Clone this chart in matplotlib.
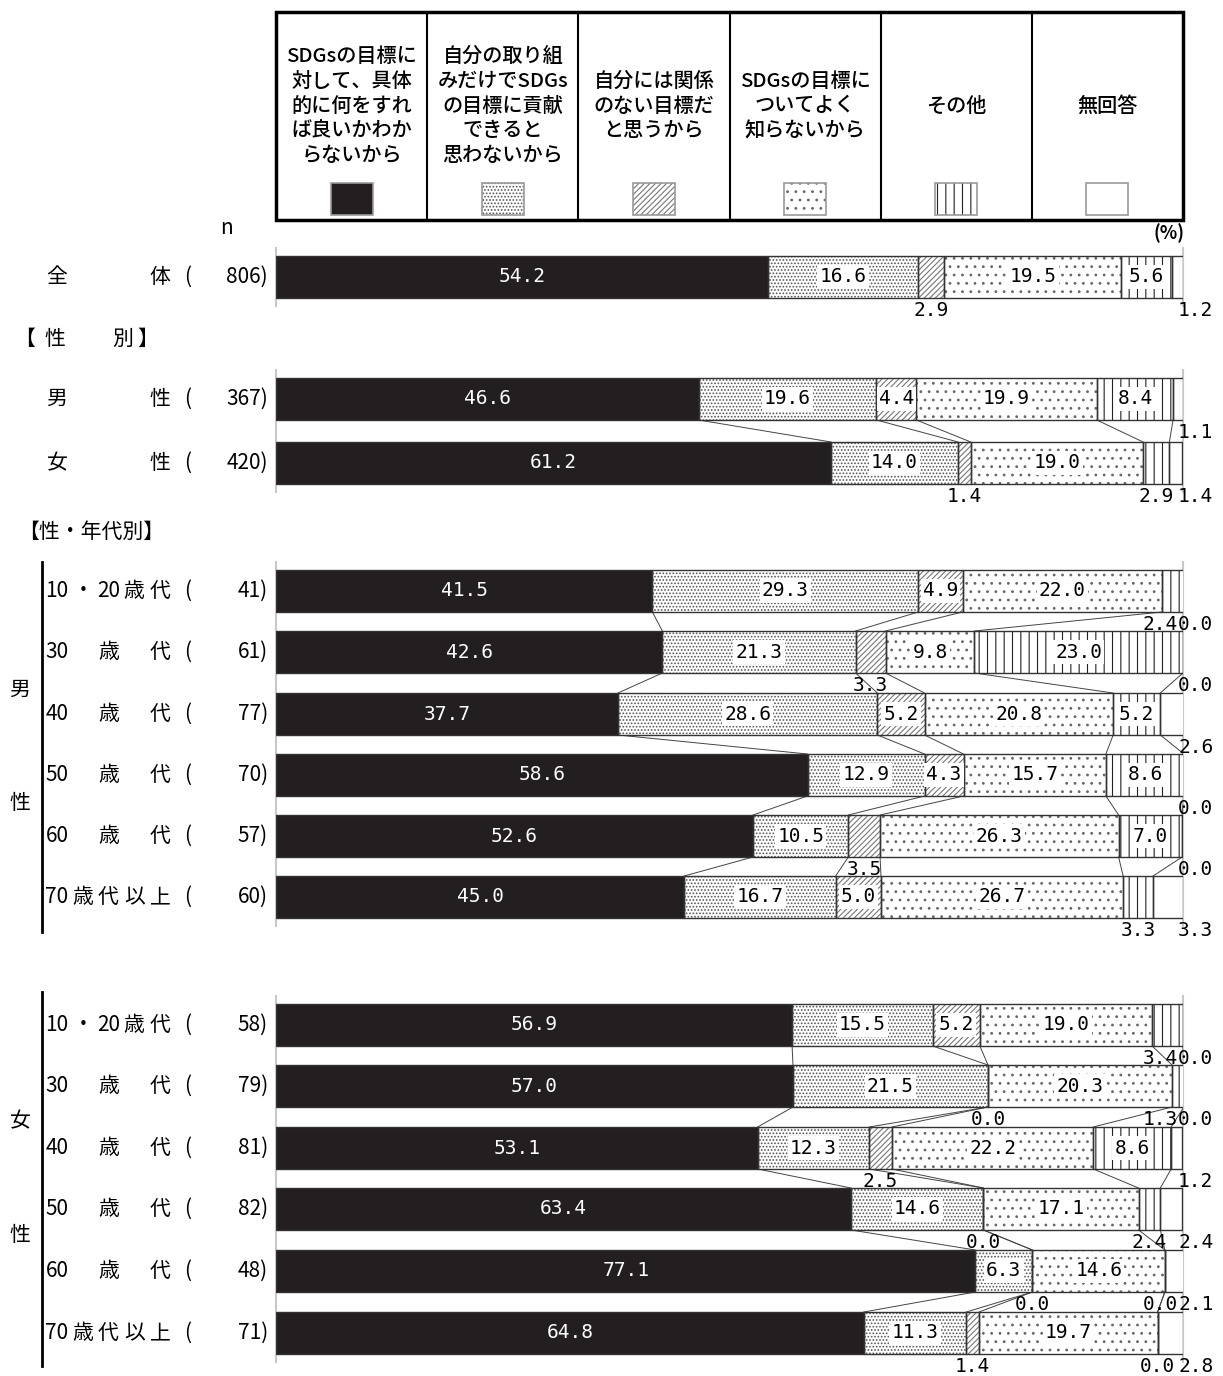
import numpy as np
import matplotlib.pyplot as plt
from matplotlib.patches import Rectangle

plt.rcParams['font.family'] = ['Noto Sans CJK JP', 'DejaVu Sans']
plt.rcParams['hatch.linewidth'] = 0.8

# ==========================================
# data
# ==========================================
legend_labels = [
    'SDGsの目標に\n対して、具体\n的に何をすれ\nば良いかわか\nらないから',
    '自分の取り組\nみだけでSDGs\nの目標に貢献\nできると\n思わないから',
    '自分には関係\nのない目標だ\nと思うから',
    'SDGsの目標に\nついてよく\n知らないから',
    'その他',
    '無回答',
]

total_labels = [['全', '体']]
total_n = [806]
total_vals = [[54.2, 16.6, 2.9, 19.5, 5.6, 1.2]]

sex_labels = [['男', '性'], ['女', '性']]
sex_n = [367, 420]
sex_vals = [
    [46.6, 19.6, 4.4, 19.9, 8.4, 1.1],
    [61.2, 14.0, 1.4, 19.0, 2.9, 1.4],
]

age_labels = [
    ['10', '・', '20', '歳', '代'],
    ['30', '歳', '代'],
    ['40', '歳', '代'],
    ['50', '歳', '代'],
    ['60', '歳', '代'],
    ['70', '歳', '代', '以', '上'],
]
male_n = [41, 61, 77, 70, 57, 60]
male_vals = [
    [41.5, 29.3, 4.9, 22.0, 2.4, 0.0],
    [42.6, 21.3, 3.3, 9.8, 23.0, 0.0],
    [37.7, 28.6, 5.2, 20.8, 5.2, 2.6],
    [58.6, 12.9, 4.3, 15.7, 8.6, 0.0],
    [52.6, 10.5, 3.5, 26.3, 7.0, 0.0],
    [45.0, 16.7, 5.0, 26.7, 3.3, 3.3],
]
female_n = [58, 79, 81, 82, 48, 71]
female_vals = [
    [56.9, 15.5, 5.2, 19.0, 3.4, 0.0],
    [57.0, 21.5, 0.0, 20.3, 1.3, 0.0],
    [53.1, 12.3, 2.5, 22.2, 8.6, 1.2],
    [63.4, 14.6, 0.0, 17.1, 2.4, 2.4],
    [77.1, 6.3, 0.0, 14.6, 0.0, 2.1],
    [64.8, 11.3, 1.4, 19.7, 0.0, 2.8],
]

# ==========================================
# styles
# ==========================================
face = ['#231f20', 'white', 'white', 'white', 'white', 'white']
hatches = [None, '.....', '//////', '..', '||', None]
hatch_col = ['#231f20', '#555555', '#777777', '#666666', '#222222', 'white']
edge = '#333333'
H = 42  # bar height (px)
FS = 15
NUM = dict(family='DejaVu Sans Mono', fontsize=14)

fig = plt.figure(figsize=(12.23, 13.76), dpi=100)
ax = fig.add_axes([276 / 1223, 0, 907 / 1223, 1])
ax.set_xlim(0, 100)
ax.set_ylim(1376, 0)
ax.axis('off')


def px(p):
    # pixel x -> percent axis
    return (p - 276) / 907 * 100


def draw_group(ys, labels, ns, vals):
    ys = np.array(ys, dtype=float)
    vals = np.array(vals)
    cum = np.cumsum(vals, axis=1)
    left = cum - vals

    # axis lines at 0 and 100
    for xv in (0, 100):
        ax.plot([xv, xv], [ys[0] - H / 2 - 8, ys[-1] + H / 2 + 8],
                color='#c8c8c8', lw=1.5, clip_on=False, zorder=1)

    for j in range(6):
        ax.barh(ys, vals[:, j], left=left[:, j], height=H, color=face[j],
                hatch=hatches[j], edgecolor=hatch_col[j], linewidth=0, zorder=2)
        ax.barh(ys, vals[:, j], left=left[:, j], height=H, fill=False,
                edgecolor=edge, linewidth=1.0, zorder=3)

    # connecting lines
    for i in range(len(ys) - 1):
        for k in range(5):
            ax.plot([cum[i, k], cum[i + 1, k]], [ys[i] + H / 2, ys[i + 1] - H / 2],
                    color='#444444', lw=0.7, zorder=2)

    # value labels
    for i, y in enumerate(ys):
        small = []
        for j in range(6):
            v = vals[i, j]
            c = left[i, j] + v / 2
            if v >= 4:
                if j == 0:
                    ax.text(c, y, f'{v:.1f}', ha='center', va='center',
                            color='white', zorder=5, **NUM)
                else:
                    ax.text(c, y, f'{v:.1f}', ha='center', va='center',
                            color='black', zorder=5, **NUM,
                            bbox=dict(facecolor='white', edgecolor='none', pad=1.5))
            else:
                small.append([j, c, v])
        # place below bar, push apart from the right end
        nxt = None
        for s in reversed(small):
            j, c, v = s
            x = 101.4 if j == 5 else c
            if nxt is not None:
                x = min(x, nxt - 3.9)
            nxt = x
            ax.text(x, y + H / 2 + 3, f'{v:.1f}', ha='center', va='top',
                    color='black', zorder=5, clip_on=False, **NUM)

    # row labels
    for i, y in enumerate(ys):
        toks = labels[i]
        cs = np.linspace(57, 160, len(toks))
        for t, c in zip(toks, cs):
            ax.text(px(c), y, t, ha='center', va='center', fontsize=FS, clip_on=False)
        ax.text(px(188), y, '(', ha='center', va='center', fontsize=FS, clip_on=False)
        ax.text(px(268), y, f'{ns[i]})', ha='right', va='center', fontsize=FS, clip_on=False)


draw_group([277], total_labels, total_n, total_vals)
draw_group([399, 463], sex_labels, sex_n, sex_vals)
draw_group([591, 652, 714, 775, 836, 897], age_labels, male_n, male_vals)
draw_group([1025, 1086, 1148, 1209, 1271, 1333], age_labels, female_n, female_vals)

# ==========================================
# headers and side labels
# ==========================================
ax.text(px(227), 228, 'n', ha='center', va='center', fontsize=FS, clip_on=False)
ax.text(px(1169), 233, '(%)', ha='center', va='center', fontsize=13,
        fontweight='bold', clip_on=False)

for t, c in zip(['【', '性', '別', '】'], [25, 55, 123, 148]):
    ax.text(px(c), 339, t, ha='center', va='center', fontsize=FS, clip_on=False)
ax.text(px(18), 532, '【性・年代別】', ha='left', va='center', fontsize=FS, clip_on=False)

for t, y in [('男', 690), ('性', 803), ('女', 1121), ('性', 1235)]:
    ax.text(px(20), y, t, ha='center', va='center', fontsize=FS, clip_on=False)
for y0, y1 in [(562, 932), (992, 1366)]:
    ax.plot([px(42), px(42)], [y0, y1], color='black', lw=2, clip_on=False)

# ==========================================
# legend table
# ==========================================
ax.add_patch(Rectangle((0, 12), 100, 208, fill=False, edgecolor='black',
                       lw=2.5, clip_on=False, zorder=4))
cw = 100 / 6
for k in range(1, 6):
    ax.plot([k * cw, k * cw], [12, 220], color='black', lw=1.5, clip_on=False)
sw = 42 / 907 * 100
for j in range(6):
    cx = (j + 0.5) * cw
    ax.text(cx, 106, legend_labels[j], ha='center', va='center', fontsize=14.5,
            fontweight='medium', linespacing=1.38, clip_on=False)
    ax.add_patch(Rectangle((cx - sw / 2, 183), sw, 32, facecolor=face[j],
                           hatch=hatches[j], edgecolor=hatch_col[j], lw=0,
                           clip_on=False))
    ax.add_patch(Rectangle((cx - sw / 2, 183), sw, 32, fill=False,
                           edgecolor='#999999', lw=1.2, clip_on=False))

plt.savefig('out.png', dpi=100)
